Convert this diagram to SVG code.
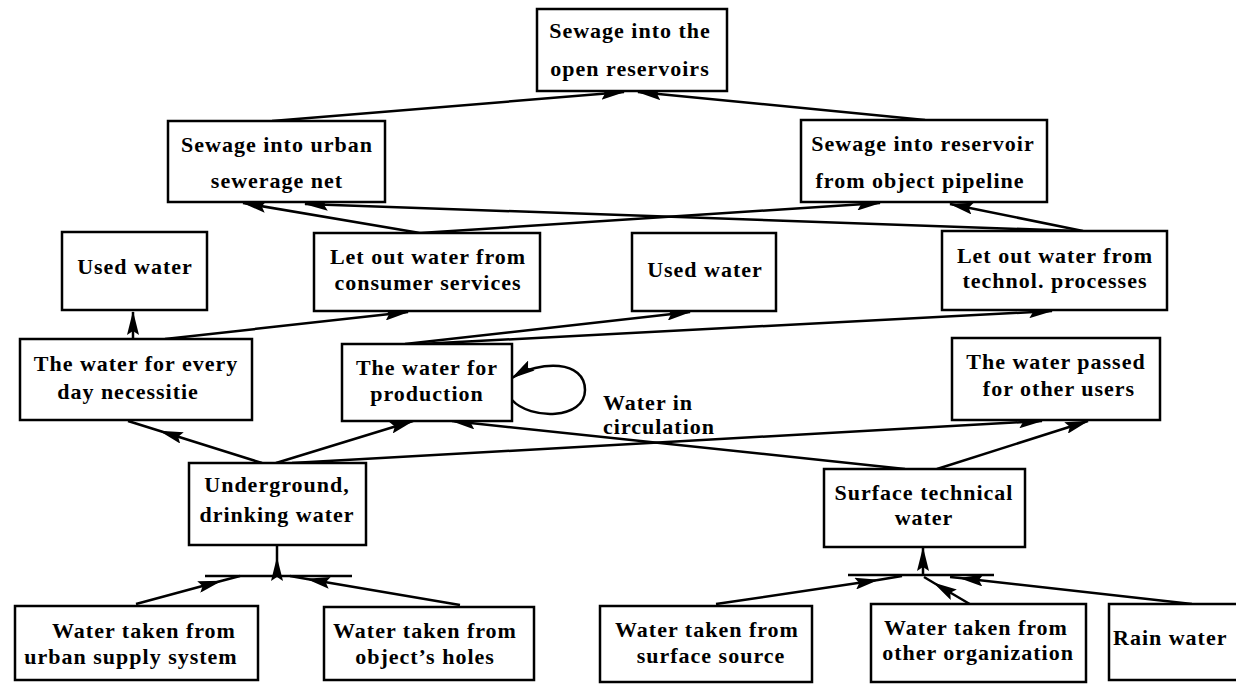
<svg xmlns="http://www.w3.org/2000/svg" width="1236" height="684" viewBox="0 0 1236 684">
<style>
.box rect{fill:#fff;stroke:#000;stroke-width:2.5}
text{font-family:"Liberation Serif","Times New Roman",serif;font-weight:bold;font-size:22px;letter-spacing:1px;fill:#000}
.c{text-anchor:middle}
.cn path,.cn line{fill:none;stroke:#000;stroke-width:2.5}
.e{marker-end:url(#ah)}
.m{marker-mid:url(#ah)}
</style>
<defs>
<marker id="ah" viewBox="0 0 24 12" refX="23" refY="6" markerWidth="24" markerHeight="12" markerUnits="userSpaceOnUse" orient="auto">
<path d="M0,0 L24,6 L0,12 L4,6 z" fill="#000"/>
</marker>
</defs>
<rect width="1236" height="684" fill="#fff"/>
<g class="cn" id="connectors">
<path class="e" d="M272,121 L624,92"/>
<path class="e" d="M925,120 L638,92"/>
<path class="e" d="M420,233 L243,203"/>
<path class="e" d="M420,233 L880,203"/>
<path class="e" d="M1078,231 L305,204"/>
<path class="e" d="M1083,231 L950,204"/>
<path class="e" d="M133,339 L133,312"/>
<path class="e" d="M165,339 L408,312"/>
<path class="e" d="M405,344 L690,312"/>
<path class="e" d="M420,344 L1052,311"/>
<path class="m" d="M262,463 L160,431 L128,421"/>
<path class="e" d="M276,463 L413,421"/>
<path class="e" d="M292,463 L1042,421"/>
<path class="e" d="M905,469 L452,421"/>
<path class="e" d="M937,469 L1088,421"/>
<path class="e" d="M512,400 C530,420 585,420 585,390 C585,360 540,360 512,378"/>
<line x1="205" y1="576" x2="352" y2="576"/>
<line x1="848" y1="575" x2="994" y2="575"/>
<path class="m" d="M277,576 L277,558 L277,546"/>
<path class="e" d="M923,575 L923,548"/>
<path class="m" d="M136,604 L221,581 L240,576"/>
<path class="m" d="M460,605 L307,579 L290,576"/>
<path class="m" d="M716,604 L878,580 L902,576"/>
<path class="m" d="M985,613 L934,583 L924,577"/>
<path class="m" d="M1192,604 L960,578 L950,577"/>
</g>
<g class="box" id="n-open-reservoirs"><rect x="537" y="9" width="190" height="82"/><text class="c" x="630" y="38">Sewage into the</text><text class="c" x="630" y="76">open reservoirs</text></g>
<g class="box" id="n-urban-sewerage"><rect x="168" y="121" width="217" height="81"/><text class="c" x="277" y="152">Sewage into urban</text><text class="c" x="277" y="188">sewerage net</text></g>
<g class="box" id="n-object-pipeline"><rect x="801" y="120" width="246" height="82"/><text class="c" x="923" y="151">Sewage into reservoir</text><text class="c" x="920" y="188">from object pipeline</text></g>
<g class="box" id="n-used-water-1"><rect x="62" y="232" width="145" height="78"/><text class="c" x="135" y="274">Used water</text></g>
<g class="box" id="n-consumer-services"><rect x="314" y="233" width="226" height="78"/><text class="c" x="428" y="264">Let out water from</text><text class="c" x="428" y="290">consumer services</text></g>
<g class="box" id="n-used-water-2"><rect x="632" y="233" width="144" height="78"/><text class="c" x="705" y="277">Used water</text></g>
<g class="box" id="n-technol-processes"><rect x="942" y="231" width="225" height="79"/><text class="c" x="1055" y="263">Let out water from</text><text class="c" x="1055" y="288">technol. processes</text></g>
<g class="box" id="n-every-day"><rect x="20" y="339" width="232" height="81"/><text class="c" x="136" y="371">The water for every</text><text class="c" x="128" y="399">day necessitie</text></g>
<g class="box" id="n-production"><rect x="342" y="344" width="170" height="77"/><text class="c" x="427" y="375">The water for</text><text class="c" x="427" y="401">production</text></g>
<g class="box" id="n-other-users"><rect x="952" y="338" width="208" height="82"/><text class="c" x="1056" y="369">The water passed</text><text class="c" x="1059" y="396">for other users</text></g>
<g id="l-circulation"><text x="603" y="410">Water in</text><text x="603" y="434">circulation</text></g>
<g class="box" id="n-underground"><rect x="189" y="463" width="177" height="82"/><text class="c" x="277" y="492">Underground,</text><text class="c" x="277" y="522">drinking water</text></g>
<g class="box" id="n-surface-technical"><rect x="824" y="469" width="201" height="78"/><text class="c" x="924" y="500">Surface technical</text><text class="c" x="924" y="525">water</text></g>
<g class="box" id="n-urban-supply"><rect x="15" y="606" width="243" height="74"/><text class="c" x="144" y="638">Water taken from</text><text class="c" x="131" y="664">urban supply system</text></g>
<g class="box" id="n-object-holes"><rect x="324" y="607" width="210" height="73"/><text class="c" x="425" y="638">Water taken from</text><text class="c" x="425" y="664">object’s holes</text></g>
<g class="box" id="n-surface-source"><rect x="600" y="606" width="212" height="76"/><text class="c" x="707" y="637">Water taken from</text><text class="c" x="711" y="663">surface source</text></g>
<g class="box" id="n-other-organization"><rect x="871" y="604" width="215" height="78"/><text class="c" x="976" y="635">Water taken from</text><text class="c" x="978" y="660">other organization</text></g>
<g class="box" id="n-rain-water"><rect x="1109" y="604" width="150" height="76"/><text x="1113" y="645">Rain water</text></g>
</svg>
